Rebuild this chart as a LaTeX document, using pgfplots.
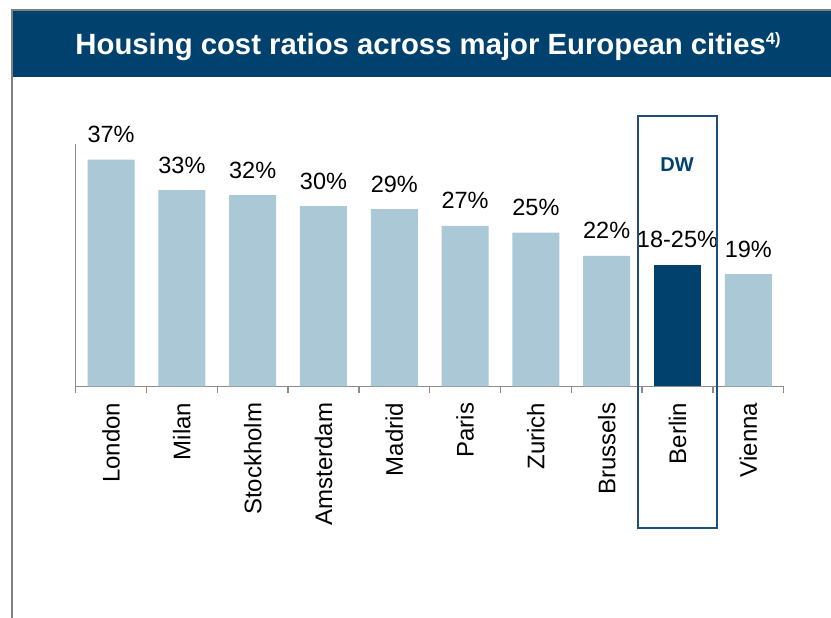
\documentclass[border=0pt]{standalone}
\usepackage{fontspec}
\setmainfont{Liberation Sans}
\usepackage{pgfplots}
\pgfplotsset{compat=1.18}
\definecolor{barlight}{HTML}{AAC8D6}
\definecolor{bardark}{HTML}{00416E}
\definecolor{boxblue}{HTML}{1F4E79}
\definecolor{titlebar}{HTML}{00416E}
\definecolor{framegray}{HTML}{808080}
\definecolor{axisgray}{HTML}{8C8C8C}
\begin{document}
\begin{tikzpicture}[x=1pt,y=1pt]
\path[use as bounding box] (0,0) rectangle (831,618);
\fill[titlebar] (13,541) rectangle (831,607);
\draw[framegray, line width=2pt] (12,0) -- (12,608) -- (831,608);
\node[text=white, font=\fontsize{29.3}{32}\selectfont\bfseries, anchor=base, inner sep=0pt] at (428,563)
  {Housing cost ratios across major European cities\raisebox{10pt}{\fontsize{16.5}{18}\selectfont 4)}};
\begin{axis}[
  at={(75.7pt,231.7pt)}, anchor=south west,
  scale only axis, width=708pt, height=242pt,
  xmin=-0.5, xmax=9.5, ymin=0, ymax=39.5,
  axis x line*=bottom, axis y line*=left,
  axis line style={axisgray, line width=1.5pt, -},
  ytick=\empty,
  xtick={0,...,9},
  xticklabels={London,Milan,Stockholm,Amsterdam,Madrid,Paris,Zurich,Brussels,Berlin,Vienna},
  major tick length=0pt,
  minor xtick={-0.5,0.5,...,9.5},
  minor tick length=7pt,
  tick align=outside,
  minor tick style={axisgray, line width=1.5pt},
  xticklabel shift=13pt,
  xticklabel style={rotate=90, anchor=east, font=\fontsize{24}{26}\selectfont},
  ybar, bar width=47pt, bar shift=0pt,
  clip=false,
  nodes near coords={\pgfplotspointmeta\%},
  point meta=explicit symbolic,
  every node near coord/.append style={font=\fontsize{23.5}{26}\selectfont, anchor=base, yshift=17pt, text=black, inner sep=0pt},
]
\addplot[fill=barlight, draw=none] table[x=x, y=y, meta=label] {
x y label
0 37.0 37
1 32.0 33
2 31.2 32
3 29.4 30
4 28.9 29
5 26.2 27
6 25.1 25
7 21.3 22
9 18.3 19
};
\addplot[fill=bardark, draw=none] table[x=x, y=y, meta=label] {
x y label
8 19.8 18-25
};
\end{axis}
\draw[boxblue, line width=2pt] (637.7,90.3) rectangle (717.3,502.3);
\node[text=bardark, font=\fontsize{20}{22}\selectfont\bfseries] at (677,453) {DW};
\end{tikzpicture}
\end{document}
